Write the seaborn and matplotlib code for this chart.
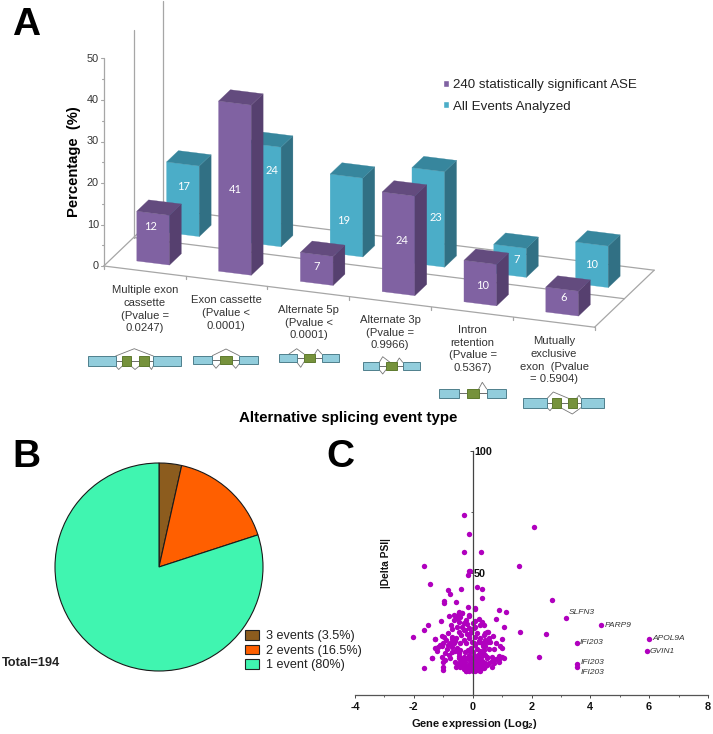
import matplotlib
matplotlib.use("Agg")
import matplotlib.pyplot as plt
from matplotlib.patches import Polygon, Rectangle, Patch
from matplotlib.ticker import MultipleLocator
import numpy as np
import pandas as pd
import seaborn as sns

sns.set_theme(style="white")
plt.rcParams["font.family"] = ["Liberation Sans", "DejaVu Sans"]
plt.rcParams["mathtext.fontset"] = "custom"
plt.rcParams["mathtext.bf"] = "Liberation Sans:bold"
plt.rcParams["mathtext.rm"] = "Liberation Sans:bold"
plt.rcParams["axes.unicode_minus"] = False

# ---------- data ----------
event_types = ["Multiple exon\ncassette\n(Pvalue =\n0.0247)",
               "Exon cassette\n(Pvalue <\n0.0001)",
               "Alternate 5p\n(Pvalue <\n0.0001)",
               "Alternate 3p\n(Pvalue =\n0.9966)",
               "Intron\nretention\n(Pvalue =\n0.5367)",
               "Mutually\nexclusive\nexon  (Pvalue\n= 0.5904)"]
significant_ase = [12, 41, 7, 24, 10, 6]
all_events = [17, 24, 19, 23, 7, 10]
y_ticks_a = [0, 10, 20, 30, 40, 50]

pie_labels = ["3 events (3.5%)", "2 events (16.5%)", "1 event (80%)"]
pie_values = [3.5, 16.5, 80]
pie_colors = ["#8C5C1E", "#FF5F00", "#40F5B0"]

log2_expr = [-0.28, 2.10, -0.12, -0.30, 0.27, -1.66, 1.59, -0.14, -0.16, -0.10, -1.45, 0.14, 0.31, -0.39, -0.83,
             -0.78, 0.33, -0.97, -0.98, -0.55, 2.68, -0.15, 0.07, 0.07, 0.90, 1.13, 3.18, 4.37, 1.62, 2.49,
             3.53, 6.00, 5.91, 2.24, 3.54, 3.54, -2.02, -1.64, -1.51, -1.07, -0.80, -0.58, -0.48, -0.35, -0.14,
             0.81, 1.07, -1.64, -1.38, -1.29,
             -0.62, -0.48, -0.36, -0.14, -0.54, -0.48, -0.23, -0.31, -0.37, -0.52, -0.74, -0.71, -0.48, -0.31, -0.14,
             0.01, 0.09, 0.20, 0.33, 0.26, 0.05, -0.06, -0.11, -0.84, -0.71, -1.05, -0.97, -1.28, -0.71, -0.60,
             -0.77, -1.01, -1.03, -1.28, -1.22, -1.18, -0.71, -0.54, -0.42, -0.31, -0.22, -0.14, -0.03, 0.09, 0.26,
             0.43, 0.51, 0.37, 0.35, 0.51, 0.09, -0.06, -0.25, -0.45, -0.71, -0.82, -1.05, -0.94, -1.01, -1.37,
             -0.77, -0.60, -0.48, -0.31, -0.14, 0.03, 0.17, 0.35, 0.48, -0.37, -0.25, -0.08, 0.09, 0.26, 0.43,
             -0.54, -0.42, -0.20, -0.03, 0.14, 0.31, -0.31, -0.14, 0.03, -1.01, -1.01, 0.26, 0.17, -0.42,
             0.37, 0.08, 0.48, 0.37, 0.69, 0.54, 0.43, 0.31, 0.60, 0.80, 1.00, 0.94, 1.00, 0.71, 0.20,
             0.26, 0.43, 0.65, 0.88, 0.99, 1.08, 0.91, 0.88, 0.71, 0.65, 0.48, 0.37, 0.26, 0.31, 0.54, 0.14,
             -0.05, 0.12, -0.18, 0.22, -0.28, 0.02, -0.10, 0.18, -0.35, 0.34, -0.22, 0.08, 0.28, -0.05, 0.40,
             -0.45, -0.38, -0.30, -0.20, -0.10, 0.00, 0.10, 0.22, 0.30, -0.35, -0.25, -0.15, -0.05, 0.05, 0.20,
             0.33, 0.42, 0.50, -0.48, -0.58, -0.12, 0.08, -0.22, 0.24, -0.90, -0.85, -0.65, -0.58, -0.42, -0.38,
             -0.20, -0.25, 0.15, 0.20, 0.05, 0.42, 0.55, 0.15, -0.15, 0.02, 0.25, -0.60, -0.95, -0.88, -0.65,
             -0.42, -0.20, -1.10, 0.65, 0.78]
delta_psi = [73.8, 68.9, 65.9, 58.6, 58.6, 52.8, 52.9, 50.7, 49.2, 50.9, 45.5, 44.1, 43.2, 43.3, 42.9,
             41.3, 39.5, 38.4, 37.4, 38.1, 38.7, 35.8, 35.6, 35.0, 34.6, 34.0, 31.5, 28.4, 25.5, 25.0,
             21.3, 22.8, 17.7, 15.5, 12.6, 11.2, 23.5, 26.4, 28.5, 30.0, 32.2, 32.2, 33.6, 33.3, 32.3,
             31.1, 27.6, 10.9, 15.0, 22.9,
             32.5, 33.7, 33.3, 32.5, 31.3, 29.9, 30.6, 29.2, 27.9, 27.9, 28.5, 26.8, 25.8, 26.5, 27.2,
             29.2, 30.3, 30.9, 29.9, 28.5, 27.2, 25.5, 24.4, 25.1, 23.8, 24.0, 23.5, 22.9, 22.7, 22.1,
             21.0, 21.0, 19.9, 19.0, 17.9, 19.6, 19.6, 19.0, 18.3, 22.4, 21.3, 23.1, 21.7, 23.5, 23.1,
             25.1, 25.8, 21.0, 19.9, 21.7, 20.3, 19.0, 17.6, 16.9, 17.6, 16.2, 15.5, 14.2, 13.5, 15.1,
             14.9, 13.5, 14.9, 15.5, 16.2, 14.9, 16.2, 16.9, 15.5, 12.8, 13.5, 12.8, 13.5, 12.8, 12.8,
             12.1, 11.4, 11.4, 11.4, 11.4, 10.8, 10.3, 10.3, 10.3, 11.4, 10.1, 14.2, 12.1, 13.5,
             28.5, 27.9, 25.5, 24.4, 24.0, 23.1, 22.4, 21.0, 21.7, 21.3, 22.7, 19.9, 19.2, 18.6, 21.7,
             16.9, 16.2, 15.5, 15.8, 15.3, 14.9, 13.5, 14.5, 12.8, 11.4, 14.9, 10.8, 10.3, 12.1, 12.8, 11.0,
             12.0, 14.0, 11.0, 13.0, 15.0, 9.8, 14.2, 9.9, 12.3, 13.3, 9.6, 16.0, 17.5, 18.0, 18.2,
             15.8, 14.6, 14.1, 15.0, 14.5, 15.6, 15.0, 14.6, 15.6, 11.9, 12.2, 11.9, 12.6, 12.1, 13.4,
             13.6, 11.6, 12.1, 12.7, 11.2, 9.6, 9.6, 9.8, 9.7, 22.5, 20.5, 21.2, 23.4, 21.2, 24.4,
             24.7, 26.5, 25.2, 22.0, 21.3, 20.0, 18.8, 18.5, 18.2, 17.4, 18.0, 17.9, 17.0, 18.6, 30.4,
             31.8, 29.0, 20.5, 13.6, 14.7]
gene_labels = ["SLFN3", "PARP9", "APOL9A", "GVIN1", "IFI203", "IFI203", "IFI203"]
gene_x = [3.18, 4.37, 6.00, 5.91, 3.53, 3.54, 3.54]
gene_y = [31.5, 28.4, 22.8, 17.7, 21.3, 12.6, 11.2]

# ---------- figure ----------
W, H = 713, 734
fig = plt.figure(figsize=(W / 100, H / 100), dpi=100, facecolor="white")


def px_axes(x0, y0, x1, y1, **kw):
    return fig.add_axes([x0 / W, 1 - y1 / H, (x1 - x0) / W, (y1 - y0) / H], **kw)


bg = px_axes(0, 0, W, H)
bg.set_xlim(0, W)
bg.set_ylim(H, 0)
bg.axis("off")

for letter, x, y in [("A", 26, 25), ("B", 26, 457), ("C", 340, 457)]:
    bg.text(x, y, letter, fontsize=28, fontweight="bold", color="black", ha="center", va="center")

# ---------- panel A: oblique 3-D column chart ----------
ORIGIN = np.array([103.8, 266.0])
U = np.array([81.8, 10.2])
V = np.array([29.8, -28.5])
UNIT = 4.15


def proj(u, v, h=0.0):
    p = ORIGIN + u * U + v * V
    return p[0], p[1] - h * UNIT


GRID = "#a6a6a6"
for v in (0, 1, 2):
    bg.plot(*zip(proj(0, v), proj(6, v)), color=GRID, lw=0.9, zorder=1)
bg.plot(*zip(proj(0, 0), proj(0, 2)), color=GRID, lw=0.9, zorder=1)
bg.plot(*zip(proj(6, 0), proj(6, 2)), color=GRID, lw=0.9, zorder=1)
for v in (0, 1, 2):
    bg.plot(*zip(proj(0, v, 0), proj(0, v, 50)), color=GRID, lw=0.9, zorder=1)
for u in range(7):
    x, y = proj(u, 0)
    bg.plot([x, x], [y, y + 3], color=GRID, lw=0.9, zorder=1)
for t in np.arange(0, 51, 5):
    x, y = proj(0, 0, t)
    bg.plot([x - (3 if t % 10 == 0 else 2), x], [y, y], color=GRID, lw=0.8, zorder=1)
for t in y_ticks_a:
    x, y = proj(0, 0, t)
    bg.text(x - 5, y, str(t), ha="right", va="center", fontsize=7.8, color="#333333")

U0, U1, V0, V1 = 0.30, 0.70, 0.283, 0.68


def bar3d(i, depth, value, front, top, side, z):
    a, b = i + U0, i + U1
    c, d = depth + V0, depth + V1
    bg.add_patch(Polygon([proj(a, c), proj(b, c), proj(b, c, value), proj(a, c, value)],
                         fc=front, ec=front, lw=0.2, zorder=z))
    bg.add_patch(Polygon([proj(b, c), proj(b, d), proj(b, d, value), proj(b, c, value)],
                         fc=side, ec=side, lw=0.2, zorder=z))
    bg.add_patch(Polygon([proj(a, c, value), proj(b, c, value), proj(b, d, value), proj(a, d, value)],
                         fc=top, ec=top, lw=0.2, zorder=z))


PURPLE = ("#8062A2", "#634B7E", "#56406F")
CYAN = ("#4BADC8", "#37869D", "#317084")
label_off_p = [(-3, -12), (0, 1), (0, -2), (3, -3), (2, 2), (1, -4)]
label_off_c = [(1, -13), (7.5, -24), (-2.5, 4.5), (7.5, 0), (6.5, -1.5), (0, 0)]
for i, val in enumerate(all_events):
    bar3d(i, 1, val, *CYAN, z=2 + i * 0.01)
for i, val in enumerate(significant_ase):
    bar3d(i, 0, val, *PURPLE, z=3 + i * 0.01)
for series, depth, offs, z in [(all_events, 1, label_off_c, 2.9), (significant_ase, 0, label_off_p, 3.9)]:
    for i, val in enumerate(series):
        x0, y0 = proj(i + 0.5, depth + V0, val / 2)
        bg.text(x0 + offs[i][0], y0 + offs[i][1], str(val), color="white", fontsize=8,
                family=["Lato", "DejaVu Sans"], ha="center", va="center", zorder=z)

bg.text(74, 162, "Percentage  (%)", rotation=90, fontsize=10.6, fontweight="bold",
        color="black", ha="center", va="center")
bg.text(348, 418, "Alternative splicing event type", fontsize=10.9, fontweight="bold",
        color="black", ha="center", va="center")

label_xy = [(144.7, 309.3), (226.3, 313), (308.7, 322.7), (390, 332.7), (472.7, 349), (554, 360.3)]
for lab, (x, y) in zip(event_types, label_xy):
    bg.text(x, y, lab, fontsize=8.1, color="#333333", ha="center", va="center",
            multialignment="center", linespacing=1.32)

legend_a = bg.legend(handles=[Patch(fc=PURPLE[0], label="240 statistically significant ASE"),
                              Patch(fc=CYAN[0], label="All Events Analyzed")],
                     loc="upper left", bbox_to_anchor=(443 / W, 1 - 79 / H), frameon=False,
                     fontsize=9.6, handlelength=0.45, handleheight=0.45, handletextpad=0.3,
                     labelspacing=0.72, borderpad=0, borderaxespad=0, labelcolor="#222222")
bg.add_artist(legend_a)

# ---------- splice diagrams ----------
BLUE, GREEN, EDGE = "#92CDDC", "#76923C", "#4f7f8c"


def diagram(cy, half, blues, greens, links):
    xs = [x for pair in blues + greens for x in pair]
    bg.plot([min(xs), max(xs)], [cy, cy], color="#555555", lw=0.6, zorder=1)
    for a, b in blues:
        bg.add_patch(Rectangle((a, cy - half), b - a, 2 * half, fc=BLUE, ec=EDGE, lw=0.7, zorder=2))
    for a, b in greens:
        bg.add_patch(Rectangle((a, cy - half), b - a, 2 * half, fc=GREEN, ec="#5e7a2e", lw=0.7, zorder=2))
    for a, m, b, peak in links:
        edge = cy - half if peak < cy else cy + half
        bg.plot([a, m, b], [edge, peak, edge], color="#777777", lw=0.6, zorder=1)


diagram(361, 5, [(88.3, 115.7), (153.3, 180.7)], [(122.3, 131), (139.3, 149)],
        [(115.7, 134.3, 153.3, 348.7), (115.7, 118.7, 122.3, 369.5), (131, 135, 139.3, 369.5), (149, 151.5, 153.3, 369.5)])
diagram(359.7, 4, [(193, 212.3), (239.3, 258.3)], [(220, 231.7)],
        [(212.3, 226, 239.3, 349), (212.3, 216, 220, 368.3), (231.7, 235.7, 239.3, 368.3)])
diagram(358, 4, [(279.3, 296.7), (321.7, 339)], [(304, 314.7)],
        [(289, 296.7, 304, 348.7), (314.7, 317.7, 321.7, 349.3), (296.7, 300.7, 304, 367.3)])
diagram(366, 3.7, [(363.3, 379.3), (402.7, 420)], [(386, 396.7)],
        [(379.3, 382.7, 390, 356.7), (396.7, 399.3, 402.7, 358), (379.3, 382.7, 386, 374)])
diagram(393.3, 4.3, [(439.3, 458.7), (486.7, 506)], [(466.7, 478.7)],
        [(478.7, 482.3, 486.7, 382.3)])
diagram(403, 4.7, [(523.3, 547.3), (581, 604.3)], [(552.3, 560.7), (568.3, 576.7)],
        [(547.3, 553.3, 568.3, 392), (576.7, 579, 581, 395.3), (547.3, 550, 552.3, 410.7), (560.7, 572.3, 581, 414)])

# ---------- panel B: pie ----------
ax_b = px_axes(55, 463, 263, 671)
ax_b.pie(pie_values, colors=pie_colors, startangle=90, counterclock=False, radius=1,
         wedgeprops=dict(edgecolor="#1a1a1a", linewidth=0.8, clip_on=False))
ax_b.set_xlim(-1, 1)
ax_b.set_ylim(-1, 1)
bg.text(2, 662.5, "Total=194", fontsize=9.2, fontweight="bold", color="#222222", ha="left", va="center")
bg.legend(handles=[Patch(fc=c, ec="#222222", lw=0.8, label=l) for c, l in zip(pie_colors, pie_labels)],
          loc="upper left", bbox_to_anchor=(245 / W, 1 - 630 / H), frameon=False, fontsize=9.1,
          handlelength=1.1, handleheight=0.8, handletextpad=0.55, labelspacing=0.18,
          borderpad=0, borderaxespad=0, labelcolor="#222222")

# ---------- panel C: scatter ----------
ax_c = px_axes(355, 451, 708, 694.5)
ax_c.patch.set_alpha(0)
volcano = pd.DataFrame({"expr": log2_expr, "psi": delta_psi})
sns.scatterplot(data=volcano, x="expr", y="psi", ax=ax_c, color="#B000BE", s=15, linewidth=0, legend=False)
ax_c.set_xlim(-4, 8)
ax_c.set_ylim(0, 100)
sns.despine(ax=ax_c)
ax_c.spines["left"].set_position(("data", 0))
ax_c.spines["left"].set_color("#444444")
ax_c.spines["bottom"].set_color("#555555")
ax_c.spines["left"].set_linewidth(0.9)
ax_c.spines["bottom"].set_linewidth(0.9)
ax_c.set_xticks([-4, -2, 0, 2, 4, 6, 8])
ax_c.xaxis.set_minor_locator(MultipleLocator(1))
ax_c.set_yticks([50, 100])
ax_c.yaxis.set_minor_locator(MultipleLocator(25))
ax_c.tick_params(axis="x", which="major", bottom=True, length=2.5, width=0.7, color="#444444",
                 labelsize=7.8, pad=3, labelcolor="#111111")
ax_c.tick_params(axis="x", which="minor", bottom=True, length=1.5, width=0.6, color="#444444")
ax_c.tick_params(axis="y", which="major", left=True, length=2, width=0.7, color="#444444",
                 labelsize=7.8, pad=-3, labelcolor="#111111")
ax_c.tick_params(axis="y", which="minor", left=True, length=1.5, width=0.6, color="#444444")
for t in ax_c.get_xticklabels() + ax_c.get_yticklabels():
    t.set_fontweight("bold")
for t in ax_c.get_yticklabels():
    t.set_ha("left")
ax_c.set_xlabel(r"Gene expression (Log$\mathbf{_2}$)", fontsize=8, fontweight="bold", color="#111111")
ax_c.xaxis.set_label_coords((474 - 355) / 353, (694.5 - 717) / 243.5)
ax_c.set_ylabel("|Delta PSI|", fontsize=7.4, fontweight="bold", color="#111111")
ax_c.yaxis.set_label_coords((391 - 355) / 353, (694.5 - 563) / 243.5)
gene_offsets_px = [(3, -5), (3.5, 0), (3, 0), (3.5, 0), (3.5, 0), (3.5, -1.5), (4, 5)]
for g, x, y, (dx, dy) in zip(gene_labels, gene_x, gene_y, gene_offsets_px):
    ax_c.annotate(g, (x, y), xytext=(dx * 0.72, -dy * 0.72), textcoords="offset points",
                  fontsize=6, fontstyle="italic", color="#333333", ha="left", va="center")

fig.savefig("out.png", dpi=100, facecolor="white")
